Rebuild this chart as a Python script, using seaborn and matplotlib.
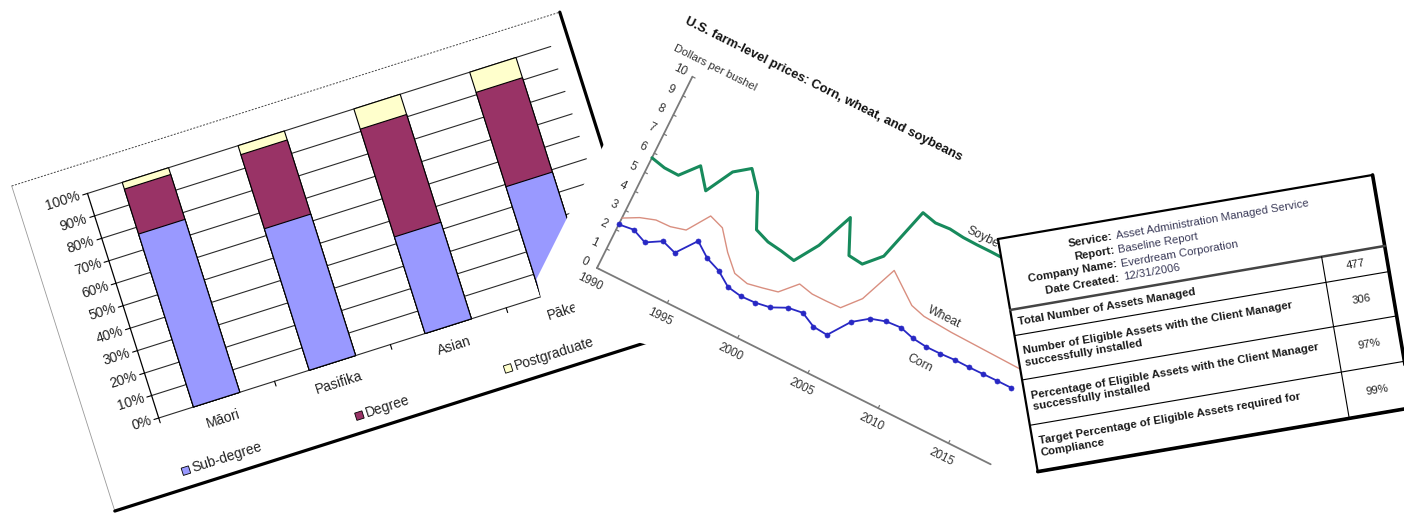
import matplotlib
matplotlib.use("Agg")
import matplotlib.pyplot as plt
from matplotlib.transforms import Affine2D
from matplotlib.patches import Rectangle, Polygon
import seaborn as sns

# ---------------- data: left panel (100% stacked bars) ----------------
groups = ["Māori", "Pasifika", "Asian", "Pākehā"]
sub_degree = [77, 63, 43, 49]
degree = [20, 33, 48, 42]
postgraduate = [3, 4, 9, 9]
pct_ticks = [0, 10, 20, 30, 40, 50, 60, 70, 80, 90, 100]
pct_labels = [f"{t}%" for t in pct_ticks]
bar_series = ["Sub-degree", "Degree", "Postgraduate"]

# ---------------- data: middle panel (prices) ----------------
years = list(range(1990, 2018))
corn = [2.28, 2.37, 2.07, 2.50, 2.26, 3.24, 2.71, 2.43, 1.94, 1.82,
        1.85, 1.97, 2.32, 2.42, 2.06, 2.00, 3.04, 3.58, 3.80, 3.85,
        3.65, 3.57, 3.58, 3.62, 3.61, 3.62, 3.63, 3.63]
wheat = [2.61, 3.00, 3.24, 3.26, 3.45, 4.55, 4.30, 3.38, 2.65, 2.48,
         2.62, 2.78, 3.56, 3.40, 3.40, 3.42, 4.26, 6.10, 5.55, 5.00,
         4.80, 4.75, 4.70, 4.68, 4.66, 4.64, 4.62, 4.60]
soybeans = [5.76, 5.60, 5.58, 6.44, 5.50, 6.85, 7.40, 6.52, 4.93, 4.66,
            4.56, 4.42, 5.58, 7.40, 5.78, 5.70, 6.48, 9.12, 8.95, 9.00,
            8.92, 8.90, 8.90, 8.88, 8.86, 8.85, 8.85, 8.85]
year_ticks = [1990, 1995, 2000, 2005, 2010, 2015]
price_ticks = list(range(0, 11))
price_title = "U.S. farm-level prices: Corn, wheat, and soybeans"
price_unit = "Dollars per bushel"
series_names = ["Soybeans", "Wheat", "Corn"]

# ---------------- data: right panel (table) ----------------
header_keys = ["Service:", "Report:", "Company Name:", "Date Created:"]
header_vals = ["Asset Administration Managed Service", "Baseline Report",
               "Everdream Corporation", "12/31/2006"]
row_labels = ["Total Number of Assets Managed",
              "Number of Eligible Assets with the Client Manager\nsuccessfully installed",
              "Percentage of Eligible Assets with the Client Manager\nsuccessfully installed",
              "Target Percentage of Eligible Assets required for\nCompliance"]
row_values = ["477", "306", "97%", "99%"]

# ---------------- styling ----------------
sns.set_style("white")
plt.rcParams["font.family"] = ["Liberation Sans", "DejaVu Sans"]
C_SUB, C_DEG, C_POST = "#9999FF", "#993366", "#FFFFCC"
C_SOY, C_WHEAT, C_CORN = "#178a5c", "#d98f80", "#2828c4"

W, H = 1404, 514
fig = plt.figure(figsize=(W / 100, H / 100), dpi=100)
ax = fig.add_axes([0, 0, 1, 1])
ax.set_xlim(0, W)
ax.set_ylim(H, 0)
ax.axis("off")


def frame(origin, angle):
    """local pixel frame (u right, v down) rotated by angle (deg, CCW on screen)"""
    return Affine2D().rotate_deg(-angle).translate(*origin) + ax.transData


def rtext(x, y, s, tr, **kw):
    kw.setdefault("rotation_mode", "anchor")
    return ax.text(x, y, s, transform=tr, transform_rotates_text=True, **kw)


# =============== LEFT PANEL ===============
L = frame((11.7, 186), 17.6)
LW, LH = 575, 341
PX0, PX1, PY0, PY1 = 70, 556, 265.6, 30
cat_w = (PX1 - PX0) / len(groups)
pct_px = (PY0 - PY1) / 100
LD = Affine2D().scale(cat_w, -pct_px).translate(PX0 + cat_w / 2, PY0) + L
FS_L = 10.0

ax.add_patch(Rectangle((0, 0), LW, LH, transform=L, facecolor="white",
                       edgecolor="none", zorder=1))
ax.plot([0, LW], [0, 0], transform=L, color="#444", lw=0.7, ls=(0, (2, 1.5)), zorder=2)
ax.plot([0, 0], [0, LH], transform=L, color="#999", lw=0.6, zorder=2)
ax.plot([LW, LW, 0], [0, LH, LH], transform=L, color="black", lw=2.3, zorder=2,
        solid_joinstyle="miter")

xmin, xmax = -0.5, len(groups) - 0.5
for t, lab in zip(pct_ticks, pct_labels):
    ax.plot([xmin, xmax], [t, t], transform=LD, color="#2a2a2a", lw=0.8, zorder=3)
    ax.plot([xmin - 5 / cat_w, xmin], [t, t], transform=LD, color="black", lw=0.8, zorder=3)
    rtext(xmin - 8 / cat_w, t, lab, LD, ha="right", va="center", fontsize=FS_L,
          color="#222", zorder=3)
ax.plot([xmin, xmin], [0, 100], transform=LD, color="black", lw=0.9, zorder=5)
for b in [xmin + k for k in range(len(groups))]:
    ax.plot([b, b], [0, -5 / pct_px], transform=LD, color="black", lw=0.8, zorder=3)

cum_deg = [s + d for s, d in zip(sub_degree, degree)]
cum_all = [s + d + p for s, d, p in zip(sub_degree, degree, postgraduate)]
xpos = list(range(len(groups)))
for vals, col in [(cum_all, C_POST), (cum_deg, C_DEG), (sub_degree, C_SUB)]:
    sns.barplot(x=xpos, y=vals, native_scale=True, orient="x", width=0.4,
                color=col, saturation=1, errorbar=None, edgecolor="black",
                linewidth=0.8, transform=LD, ax=ax, zorder=4)

for i, g in enumerate(groups):
    rtext(i, -(20.5 / pct_px), g, LD, ha="center", va="center", fontsize=FS_L,
          color="#222", zorder=5)

for u, name, col in zip([80, 262, 418], bar_series, [C_SUB, C_DEG, C_POST]):
    ax.add_patch(Rectangle((u - 3.8, 324 - 3.8), 7.6, 7.6, transform=L, facecolor=col,
                           edgecolor="black", lw=0.6, zorder=5))
    rtext(u + 6.5, 324, name, L, ha="left", va="center", fontsize=FS_L, color="#222",
          zorder=5)

# =============== MIDDLE PANEL ===============
M = frame((597, 268), -26.5)
YPX, PPX = 15.71, 21.38
MD = Affine2D().translate(-1990, 0).scale(YPX, -PPX) + M

# white sheet of the middle picture, lying over the bar chart's lower right
ax.add_patch(Polygon([(681, -10), (536.5, 279), (541, 298.5), (574, 300), (576, 326),
                      (652, 346), (760, 530), (1404, 530), (1404, -10)], closed=True,
                     transform=ax.transData, facecolor="white", edgecolor="none",
                     zorder=10))
AX_C = "#7a7a7a"
FS_M = 8.4
ax.plot([1990, 2018], [0, 0], transform=MD, color=AX_C, lw=1.3, zorder=11)
ax.plot([1990, 1990], [0, 10], transform=MD, color=AX_C, lw=1.3, zorder=11)
for y in year_ticks:
    ax.plot([y, y], [0, 3 / PPX], transform=MD, color=AX_C, lw=0.9, zorder=11)
    rtext(y, -15.5 / PPX, str(y), MD, ha="center", va="center", fontsize=FS_M,
          color="#333", zorder=11)
for p in price_ticks:
    ax.plot([1990, 1990 + 3 / YPX], [p, p], transform=MD, color=AX_C, lw=0.9, zorder=11)
    rtext(1990 - 13.5 / YPX, p, str(p), MD, ha="center", va="center", fontsize=FS_M,
          color="#333", zorder=11)

rtext(1988.0, 12.2, price_title, MD, ha="left", va="center", fontsize=9.4,
      fontweight="bold", color="#111", zorder=11)
rtext(1988.1, 10.85, price_unit, MD, ha="left", va="center", fontsize=8.2,
      color="#333", zorder=11)

sns.lineplot(x=years, y=soybeans, ax=ax, transform=MD, color=C_SOY, linewidth=2.2,
             errorbar=None, legend=False, zorder=12)
sns.lineplot(x=years, y=wheat, ax=ax, transform=MD, color=C_WHEAT, linewidth=1.0,
             errorbar=None, legend=False, zorder=12)
sns.lineplot(x=years, y=corn, ax=ax, transform=MD, color=C_CORN, linewidth=1.3,
             marker="o", markersize=3.6, markeredgecolor=C_CORN, markeredgewidth=0.5,
             errorbar=None, legend=False, zorder=13)

rtext(2010.0, 9.35, series_names[0], MD, ha="left", va="center", fontsize=8.8,
      color="#333", zorder=12)
rtext(2011.2, 5.17, series_names[1], MD, ha="center", va="center", fontsize=8.8,
      color="#333", zorder=12)
rtext(2011.1, 2.73, series_names[2], MD, ha="center", va="center", fontsize=8.8,
      color="#333", zorder=12)

# =============== RIGHT PANEL (table) ===============
T = frame((998, 239), 9.7)
TW, TH = 380, 236
ROWS = [72, 98, 143, 189, TH]
VCOL = 316
FS_T = 8.2
ax.add_patch(Rectangle((0, 0), TW, TH, transform=T, facecolor="white",
                       edgecolor="black", lw=1.6, zorder=30))
ax.plot([TW, TW, 0], [0, TH, TH], transform=T, color="black", lw=2.6, zorder=31,
        solid_joinstyle="miter")
ax.plot([0, TW], [ROWS[0], ROWS[0]], transform=T, color="#444", lw=1.8, zorder=31)
for r in ROWS[1:-1]:
    ax.plot([0, TW], [r, r], transform=T, color="black", lw=0.8, zorder=31)
ax.plot([VCOL, VCOL], [ROWS[0], TH], transform=T, color="black", lw=0.8, zorder=31)

for k, (key, val) in enumerate(zip(header_keys, header_vals)):
    vy = 17 + 14 * k
    rtext(113, vy, key, T, ha="right", va="center", fontsize=FS_T, fontweight="bold",
          color="#1a1a1a", zorder=32)
    rtext(117, vy, val, T, ha="left", va="center", fontsize=FS_T, color="#3a3a58",
          zorder=32)
for k, (lab, val) in enumerate(zip(row_labels, row_values)):
    cy = (ROWS[k] + ROWS[k + 1]) / 2
    rtext(6, cy, lab, T, ha="left", va="center", fontsize=FS_T, fontweight="bold",
          color="#1a1a1a", linespacing=1.25, zorder=32)
    rtext((VCOL + TW) / 2, cy, val, T, ha="center", va="center", fontsize=FS_T,
          color="#222", zorder=32)

ax.set_xlim(0, W)
ax.set_ylim(H, 0)
fig.savefig("out.png", dpi=100)
